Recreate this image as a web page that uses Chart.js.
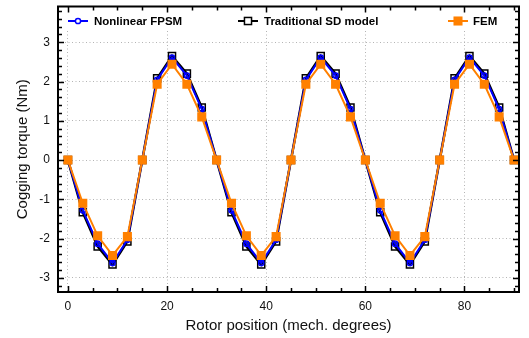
<!DOCTYPE html>
<html><head><meta charset="utf-8">
<script src="https://cdn.jsdelivr.net/npm/chart.js@4.4.0/dist/chart.umd.min.js"></script>
<style>html,body{margin:0;padding:0;background:#fff}#wrap{width:529px;height:338px}</style>
</head><body><div id="wrap"><canvas id="c" width="529" height="338"></canvas></div>
<script>
const positions = [0,3,6,9,12,15,18,21,24,27,30,33,36,39,42,45,48,51,54,57,60,63,66,69,72,75,78,81,84,87,90];
const fpsm = [0,-1.28,-2.13,-2.62,-2.03,0,2.04,2.61,2.15,1.30,0,-1.28,-2.13,-2.62,-2.03,0,2.04,2.61,2.15,1.30,0,-1.28,-2.13,-2.62,-2.03,0,2.04,2.61,2.15,1.30,0];
const sd = [0,-1.33,-2.20,-2.66,-2.07,0,2.08,2.65,2.20,1.34,0,-1.33,-2.20,-2.66,-2.07,0,2.08,2.65,2.20,1.34,0,-1.33,-2.20,-2.66,-2.07,0,2.08,2.65,2.20,1.34,0];
const fem = [0,-1.10,-1.93,-2.43,-1.95,0,1.93,2.44,1.93,1.10,0,-1.10,-1.93,-2.43,-1.95,0,1.93,2.44,1.93,1.10,0,-1.10,-1.93,-2.43,-1.95,0,1.93,2.44,1.93,1.10,0];
const xTickValues = [0,20,40,60,80];
const yTickValues = [-3,-2,-1,0,1,2,3];
const seriesNames = ['Nonlinear FPSM','Traditional SD model','FEM'];
const xTitle = 'Rotor position (mech. degrees)';
const yTitle = 'Cogging torque (Nm)';

const FONT = "'Liberation Sans', Arial, Helvetica, sans-serif";
const BLUE = '#0000ff', BLACK = '#000000', ORANGE = '#ff8000';
const toXY = arr => arr.map((v, i) => ({x: positions[i], y: v}));

const datasets = [
  {label: seriesNames[0], data: toXY(fpsm), borderColor: BLUE, backgroundColor: 'rgba(0,0,0,0)', borderWidth: 2,
   pointStyle: 'circle', pointRadius: 2.6, pointBorderWidth: 1.5, pointBorderColor: BLUE, pointBackgroundColor: 'rgba(0,0,0,0)', order: 1},
  {label: seriesNames[1], data: toXY(sd), borderColor: BLACK, backgroundColor: 'rgba(0,0,0,0)', borderWidth: 2.5,
   pointStyle: 'rect', pointRadius: 5, pointBorderWidth: 1.5, pointBorderColor: BLACK, pointBackgroundColor: 'rgba(0,0,0,0)', order: 2},
  {label: seriesNames[2], data: toXY(fem), borderColor: ORANGE, backgroundColor: ORANGE, borderWidth: 2,
   pointStyle: 'rect', pointRadius: 6.4, pointBorderWidth: 0, pointBorderColor: ORANGE, pointBackgroundColor: ORANGE, order: 0}
];

const framePlugin = {
  id: 'frame',
  afterDraw(chart) {
    const {ctx, chartArea: {left, right, top, bottom}, scales: {x, y}} = chart;
    ctx.save();
    ctx.fillStyle = '#fff';
    ctx.fillRect(left + 1, top + 1, right - left - 2, 22);
    const ly = 21;
    const items = [
      {lx: 68, tx: 94, ds: datasets[0]},
      {lx: 238, tx: 264, ds: datasets[1]},
      {lx: 448, tx: 473, ds: datasets[2]}
    ];
    ctx.font = "bold 11.5px " + FONT;
    ctx.textBaseline = 'middle';
    ctx.textAlign = 'left';
    items.forEach(it => {
      const d = it.ds;
      ctx.strokeStyle = d.borderColor; ctx.lineWidth = 2;
      ctx.beginPath(); ctx.moveTo(it.lx, ly); ctx.lineTo(it.lx + 20, ly); ctx.stroke();
      const cx = it.lx + 10;
      ctx.lineWidth = d.pointBorderWidth || 1;
      if (d.pointStyle === 'circle') {
        ctx.fillStyle = '#fff';
        ctx.beginPath(); ctx.arc(cx, ly, d.pointRadius, 0, Math.PI * 2); ctx.fill(); ctx.stroke();
      } else {
        const s = Math.SQRT1_2 * d.pointRadius;
        if (d.pointBorderWidth) {
          ctx.fillStyle = '#fff'; ctx.fillRect(cx - s, ly - s, 2 * s, 2 * s);
          ctx.strokeRect(cx - s, ly - s, 2 * s, 2 * s);
        } else {
          ctx.fillStyle = d.pointBackgroundColor; ctx.fillRect(cx - s, ly - s, 2 * s, 2 * s);
        }
      }
      ctx.fillStyle = '#000';
      ctx.fillText(d.label, it.tx, ly + 0.5);
    });
    ctx.strokeStyle = '#000'; ctx.lineWidth = 2;
    ctx.strokeRect(left, top, right - left, bottom - top);
    ctx.lineWidth = 1.5;
    ctx.beginPath();
    for (let v = 0; v <= 90; v += 5) {
      const px = Math.round(x.getPixelForValue(v)) + 0.5;
      const len = v % 20 === 0 ? 6 : 4;
      ctx.moveTo(px, bottom); ctx.lineTo(px, bottom - len);
      ctx.moveTo(px, top); ctx.lineTo(px, top + len);
    }
    for (let k = -16; k <= 19; k++) {
      const py = Math.round(y.getPixelForValue(k / 5)) + 0.5;
      const len = k % 5 === 0 ? 6 : 4;
      ctx.moveTo(left, py); ctx.lineTo(left + len, py);
      ctx.moveTo(right, py); ctx.lineTo(right - len, py);
    }
    ctx.stroke();
    ctx.restore();
  }
};

new Chart(document.getElementById('c'), {
  type: 'line',
  data: {datasets},
  options: {
    responsive: false,
    animation: false,
    devicePixelRatio: 1,
    layout: {padding: {top: 5, right: 10, left: 0, bottom: 0}},
    plugins: {legend: {display: false}, tooltip: {enabled: false}},
    elements: {line: {tension: 0}},
    scales: {
      x: {
        type: 'linear', min: -2, max: 91,
        afterBuildTicks: s => { s.ticks = xTickValues.map(v => ({value: v})); },
        afterFit: s => { s.height = 46; s.paddingLeft = 0; s.paddingRight = 0; },
        grid: {color: '#b4b4b4', lineWidth: 1, drawTicks: false},
        border: {display: false, dash: [1, 2.5]},
        ticks: {padding: 7, color: '#111', font: {family: FONT, size: 12}, maxRotation: 0},
        title: {display: true, text: xTitle, color: '#111', font: {family: FONT, size: 15}, padding: {top: 0, bottom: 3}}
      },
      y: {
        type: 'linear', min: -3.36, max: 3.91,
        afterBuildTicks: s => { s.ticks = yTickValues.map(v => ({value: v})); },
        afterFit: s => { s.width = 58; s.paddingTop = 0; s.paddingBottom = 0; },
        grid: {color: '#b4b4b4', lineWidth: 1, drawTicks: false},
        border: {display: false, dash: [1, 2.5]},
        ticks: {padding: 8, color: '#111', font: {family: FONT, size: 12}},
        title: {display: true, text: yTitle, color: '#111', font: {family: FONT, size: 15}, padding: {top: 14, bottom: 0}}
      }
    }
  },
  plugins: [framePlugin]
});
</script></body></html>
